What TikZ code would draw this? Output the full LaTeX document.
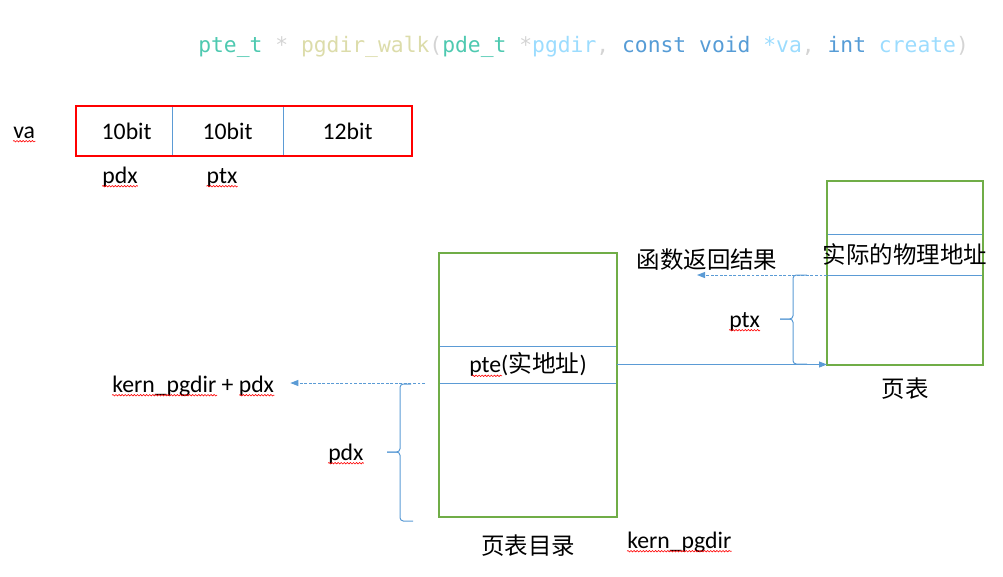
\documentclass[tikz,border=0pt]{standalone}
\usepackage{fontspec}
\setmainfont{Carlito}
\newfontfamily\cjkfont{Noto Sans CJK SC}
\newfontfamily\codefont{DejaVu Sans Mono}
\usetikzlibrary{arrows.meta,positioning,decorations.pathmorphing}
\definecolor{vsteal}{HTML}{4EC9B0}
\definecolor{vsyellow}{HTML}{DCDCAA}
\definecolor{vsgray}{HTML}{D4D4D4}
\definecolor{vslight}{HTML}{9CDCFE}
\definecolor{vsblue}{HTML}{569CD6}
\definecolor{boxgreen}{HTML}{70AD47}
\definecolor{linkblue}{HTML}{5B9BD5}
\tikzset{
  lbl/.style = {inner sep=0pt, font=\fontsize{17.8}{20}\selectfont},% texte latin
  cjk/.style = {inner sep=0pt, font=\fontsize{17.6}{20}\selectfont\cjkfont},% texte chinois
  bitcell/.style = {inner sep=0pt, outer sep=0pt,
    minimum height=37.5pt, font=\fontsize{17.8}{20}\selectfont},% champ de va
  row/.style = {inner sep=0pt, outer sep=0pt},% ligne de table
  divider/.style = {linkblue, line width=0.75pt},% separation bleue
  boxframe/.style = {draw=#1, line width=0.8pt},% cadre
  link/.style = {linkblue, line width=0.75pt, -{Triangle[length=6pt,width=4.5pt]}},
  dashlink/.style = {link, dash pattern=on 2.2pt off 1.2pt},
  curly/.style = {linkblue, line width=0.75pt, rounded corners=2.5pt},% accolade
  spell/.style = {red, line width=0.45pt, decorate,
    decoration={snake, amplitude=0.55pt, segment length=2.3pt}}% soulignement rouge
}
\newcommand{\spellmark}[3]{\draw[spell] ([xshift=#2, yshift=-2.4pt]#1.base west) -- ([xshift=#3, yshift=-2.4pt]#1.base east);}

\begin{document}
\begin{tikzpicture}[x=0.75pt, y=-0.75pt]
  \useasboundingbox (0,0) rectangle (1003,576);
  % signature
  \node [anchor=base west, inner sep=0pt, font=\fontsize{16}{18}\selectfont\codefont] (sig) at (198,52)
    {\textcolor{vsteal}{pte\_t} \textcolor{vsgray}{*} \textcolor{vsyellow}{pgdir\_walk}\textcolor{vsgray}{(}\textcolor{vsteal}{pde\_t} \textcolor{vsgray}{*}\textcolor{vslight}{pgdir}\textcolor{vsgray}{,} \textcolor{vsblue}{const} \textcolor{vsblue}{void} \textcolor{vslight}{*va}\textcolor{vsgray}{,} \textcolor{vsblue}{int} \textcolor{vslight}{create}\textcolor{vsgray}{)}};

  % va
  \node [lbl, anchor=base west] (va) at (13,138) {va};
  \node [bitcell, minimum width=72pt, anchor=north west] (b1) at (76,106) {\hspace{4pt}10bit};
  \node [bitcell, minimum width=83.25pt, right=0pt of b1] (b2) {10bit\hspace{6pt}};
  \node [bitcell, minimum width=96.75pt, right=0pt of b2] (b3) {12bit\hspace{12pt}};
  \draw [divider] (b1.north east) -- (b1.south east) (b2.north east) -- (b2.south east);
  \draw [boxframe=red] (b1.north west) rectangle (b3.south east);
  \node [lbl, anchor=base] (pdx) at (120,183) {pdx};
  \node [lbl, anchor=base] (ptx) at (222,183) {ptx};

  % page directory
  \node [row, minimum width=133.5pt, minimum height=69.75pt, anchor=north west] (pdtop) at (439,253) {};
  \node [row, minimum width=133.5pt, minimum height=27.75pt, below=0pt of pdtop, lbl] (pte)
    {pte({\cjkfont 实地址})};
  \node [row, minimum width=133.5pt, minimum height=100.5pt, below=0pt of pte] (pdbot) {};
  \draw [divider] (pte.north west) -- (pte.north east) (pte.south west) -- (pte.south east);
  \draw [boxframe=boxgreen] (pdtop.north west) rectangle (pdbot.south east);
  \node [cjk, below=13.5pt of pdbot] (pdname) {页表目录};
  \node [lbl, anchor=base west] (kpg) at (627,548) {kern\_pgdir};

  \node [lbl, anchor=base west] (kpd) at (112,392) {kern\_pgdir + pdx};
  \draw [dashlink] ([xshift=-10.5pt]pdbot.north west) -- ([xshift=12pt]kpd.east |- pdbot.north);
  \draw [curly] (411,384) -- (400,384) -- (400,452) -- (387,452);
  \draw [curly] (387,452) -- (400,452) -- (400,521) -- (413,521);
  \node [lbl, anchor=base west] (pdxb) at (328,460) {pdx};

  % page table
  \node [row, minimum width=117pt, minimum height=39.75pt, anchor=north west] (pttop) at (827,181) {};
  \node [row, minimum width=117pt, minimum height=30.75pt, below=0pt of pttop] (phys) {};
  \node [row, minimum width=117pt, minimum height=67.5pt, below=0pt of phys] (ptbot) {};
  \draw [divider] (phys.north west) -- (phys.north east) (phys.south west) -- (phys.south east);
  \draw [boxframe=boxgreen] (pttop.north west) rectangle (ptbot.south east);
  \node [cjk] (physlbl) at (phys.center) {实际的物理地址};
  \node [cjk, below=9.75pt of ptbot] (ptname) {页表};

  \draw [link] (pte.east) -- (pte.east -| ptbot.west);
  \node [cjk] (ret) at (707,260) {函数返回结果};
  \draw [dashlink] (ptbot.north west) -- ([xshift=-97.5pt]ptbot.north west);
  \draw [curly] (807,275) -- (793,275) -- (793,319) -- (780,319);
  \draw [curly] (780,319) -- (793,319) -- (793,364) -- (807,364);
  \node [lbl, anchor=base west] (ptxb) at (729,327) {ptx};

  % soulignements
  \spellmark{va}{0pt}{0pt}
  \spellmark{pdx}{0pt}{0pt}
  \spellmark{ptx}{0pt}{0pt}
  \spellmark{pdxb}{0pt}{0pt}
  \spellmark{ptxb}{0pt}{0pt}
  \spellmark{kpg}{0pt}{0pt}
  \draw[spell] ([yshift=-2.4pt]kpd.base west) -- ([xshift=78.75pt, yshift=-2.4pt]kpd.base west);
  \draw[spell] ([xshift=-26.25pt, yshift=-2.4pt]kpd.base east) -- ([yshift=-2.4pt]kpd.base east);
  \draw[spell] ([xshift=-42pt, yshift=-2.4pt]pte.base) -- ([xshift=-19.5pt, yshift=-2.4pt]pte.base);
\end{tikzpicture}
\end{document}
